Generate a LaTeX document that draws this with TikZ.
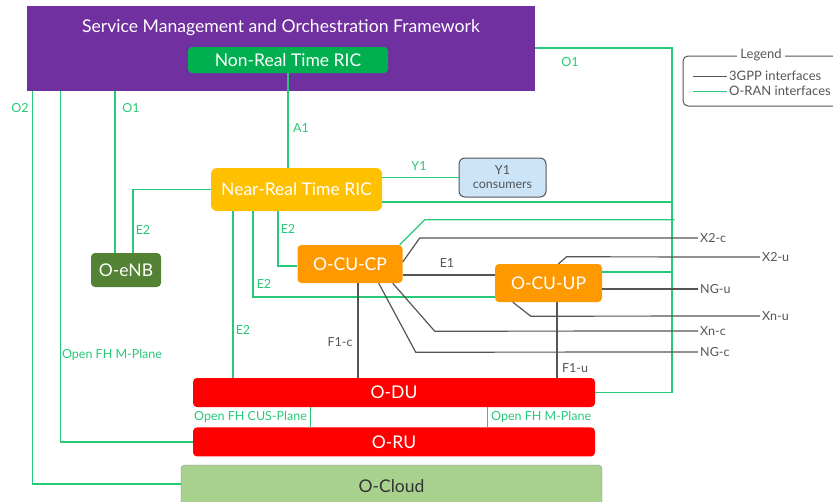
\documentclass[tikz,border=0pt]{standalone}
\usepackage{fontspec}
\setmainfont{Lato}
\usetikzlibrary{positioning,calc}
\definecolor{smopurple}{RGB}{112,48,160}
\definecolor{nonrtgreen}{RGB}{0,176,80}
\definecolor{nearrtyellow}{RGB}{255,192,0}
\definecolor{cuorange}{RGB}{255,153,0}
\definecolor{enbgreen}{RGB}{84,130,53}
\definecolor{cloudgreen}{RGB}{169,209,142}
\definecolor{yoneblue}{RGB}{204,228,247}
\definecolor{orangreen}{RGB}{40,200,120}
\definecolor{tgppgray}{RGB}{85,85,85}

\begin{document}
\begin{tikzpicture}[x=1pt, y=-1pt,
    block/.style={rectangle, rounded corners=4pt, text=white, align=center, inner sep=0pt, font=\fontsize{17.5}{19}\selectfont},
    oran/.style={draw=orangreen, line width=1.2pt},
    tgpp/.style={draw=tgppgray, line width=1.2pt},
    oranlbl/.style={text=orangreen, inner sep=1pt, font=\fontsize{12.5}{14}\selectfont},
    tgpplbl/.style={text=tgppgray, inner sep=2pt, font=\fontsize{12.5}{14}\selectfont}
]
    \useasboundingbox (0,0) rectangle (833,501);

    % SMO
    \node[rectangle, fill=smopurple, minimum width=508, minimum height=85, inner sep=0pt] (smo) at (281,48.5) {};
    \node[text=white, font=\fontsize{17.6}{19}\selectfont] (smotitle) at (281,28) {Service Management and Orchestration Framework};
    \node[block, fill=nonrtgreen, minimum width=200, minimum height=26] (nonrt) at (288,60) {Non-Real Time RIC};

    % RICs and CUs
    \node[block, fill=nearrtyellow, minimum width=171, minimum height=43, rounded corners=6pt] (nearrt) at (296.5,189.5) {Near-Real Time RIC};
    \node[block, fill=yoneblue, draw=tgppgray, line width=1pt, text=tgppgray, minimum width=87, minimum height=39, rounded corners=6pt, font=\fontsize{12.5}{14}\selectfont] (yone) at (502.5,177.5) {Y1\\consumers};
    \node[block, fill=enbgreen, minimum width=70, minimum height=34] (oenb) at (126,270) {O-eNB};
    \node[block, fill=cuorange, minimum width=105, minimum height=38] (cucp) at (350,264) {O-CU-CP};
    \node[block, fill=cuorange, minimum width=107, minimum height=38] (cuup) at (548.5,283) {O-CU-UP};

    % DU, RU and cloud
    \node[block, fill=red, minimum width=402, minimum height=29] (odu) at (394,392.5) {O-DU};
    \node[block, fill=red, minimum width=402, minimum height=29, below=20pt of odu] (oru) {O-RU};
    \node[block, fill=cloudgreen, draw=tgppgray!70, text=black!80, minimum width=421, minimum height=42] (ocloud) at (391.5,486) {O-Cloud};

    % Legend
    \draw[tgppgray, line width=1pt, rounded corners=5pt] (683,56) rectangle (850,106);
    \node[fill=white, text=tgppgray, font=\fontsize{13}{15}\selectfont, inner sep=3pt] (legtitle) at (761,55) {Legend};
    \node[tgpplbl, anchor=west, font=\fontsize{13}{15}\selectfont] (leg3gpp) at (727,76) {3GPP interfaces};
    \node[tgpplbl, anchor=west, font=\fontsize{13}{15}\selectfont] (legoran) at (727,91) {O-RAN interfaces};
    \coordinate (leg3gppstart) at (693,76);
    \coordinate (legoranstart) at (693,91);
    \draw[tgpp, line width=1pt] (leg3gppstart) -- (leg3gpp.west);
    \draw[oran, line width=1pt] (legoranstart) -- (legoran.west);

    % 3GPP end labels
    \node[tgpplbl, anchor=west] (xtwoc) at (698,238) {X2-c};
    \node[tgpplbl, anchor=west] (xtwou) at (760,257) {X2-u};
    \node[tgpplbl, anchor=west] (ngu) at (698,289) {NG-u};
    \node[tgpplbl, anchor=west] (xnu) at (760,316) {Xn-u};
    \node[tgpplbl, anchor=west] (xnc) at (698,331) {Xn-c};
    \node[tgpplbl, anchor=west] (ngc) at (698,352) {NG-c};

    % O1 bus on the right
    \coordinate (bustop) at (672,48);
    \draw[oran] (smo.east |- bustop) -- (bustop) -- (odu.east -| bustop) -- (odu.east);
    \draw[oran] ([yshift=-12.5]nearrt.east) -- ([yshift=-12.5]nearrt.east -| bustop);
    \draw[oran] ([xshift=-3]cucp.north east) -- ++(25,-25) -- ++(250,0) coordinate (cucpbus);
    \draw[oran] ([yshift=11]cuup.east) -- ([yshift=11]cuup.east -| bustop);
    \node[oranlbl] (oonelbl) at (570,62) {O1};

    % A1, Y1
    \draw[oran] (nonrt.south) -- (nonrt.south |- nearrt.north);
    \node[oranlbl] (aonelbl) at (301,128) {A1};
    \draw[oran] (nearrt.east |- yone.west) -- (yone.west);
    \node[oranlbl] (yonelbl) at (419,166) {Y1};

    % E2
    \draw[oran] (nearrt.west) -| ([xshift=7]oenb.north);
    \node[oranlbl] (etwoenb) at (143,230) {E2};
    \draw[oran] ([xshift=-18.5]nearrt.south) |- ([yshift=-2]cucp.west);
    \node[oranlbl] (etwocp) at (288,229) {E2};
    \draw[oran] ([xshift=-43.5]nearrt.south) |- ([yshift=-14]cuup.west);
    \node[oranlbl] (etwoup) at (264,284) {E2};
    \draw[oran] ([xshift=-63.5]nearrt.south) -- ([xshift=-63.5]nearrt.south |- odu.north);
    \node[oranlbl] (etwodu) at (243,330) {E2};

    % O1, O2 and M-Plane on the left
    \draw[oran] ([xshift=-11]oenb.north) -- ([xshift=-11]oenb.north |- smo.south);
    \node[oranlbl] (oneenb) at (131,108) {O1};
    \draw[oran] (oru.west) -| ([xshift=34]smo.south west);
    \node[oranlbl] (mplaneleft) at (112,355) {Open FH M-Plane};
    \draw[oran] (ocloud.west |- 0,484) -| ([xshift=6]smo.south west);
    \node[oranlbl] (otwolbl) at (20,108) {O2};

    % fronthaul
    \draw[oran] ([xshift=118]odu.south west) -- ([xshift=118]odu.south west |- oru.north);
    \node[oranlbl, anchor=east] (cusplane) at (308,417) {Open FH CUS-Plane};
    \draw[oran] ([xshift=295]odu.south west) -- ([xshift=295]odu.south west |- oru.north);
    \node[oranlbl, anchor=west] (mplaneright) at (490,417) {Open FH M-Plane};

    % 3GPP interfaces
    \draw[tgpp] ([yshift=-11]cucp.east) -- ([yshift=-11]cucp.east -| cuup.west);
    \node[tgpplbl] (eonelbl) at (447,263) {E1};
    \draw[tgpp] ([yshift=2]cucp.east) -- ++(17,-24) -- (xtwoc.west);
    \draw[tgpp] ([xshift=10]cuup.north) -- ++(8,-7) -- (xtwou.west);
    \draw[tgpp] (cuup.east |- ngu.west) -- (ngu.west);
    \draw[tgpp] ([xshift=18]cuup.south west) -- ++(18,14) -- (xnu.west);
    \draw[tgpp] ([xshift=-10]cucp.south east) -- ++(42,48) -- (xnc.west);
    \draw[tgpp] ([xshift=-24]cucp.south east) -- ++(37,69) -- (ngc.west);
    \draw[tgpp] ([xshift=8]cucp.south) -- ([xshift=8]cucp.south |- odu.north);
    \node[tgpplbl] (fonec) at (340,342) {F1-c};
    \draw[tgpp] ([xshift=8.5]cuup.south) -- ([xshift=8.5]cuup.south |- odu.north);
    \node[tgpplbl] (foneu) at (575,368) {F1-u};

\end{tikzpicture}
\end{document}
